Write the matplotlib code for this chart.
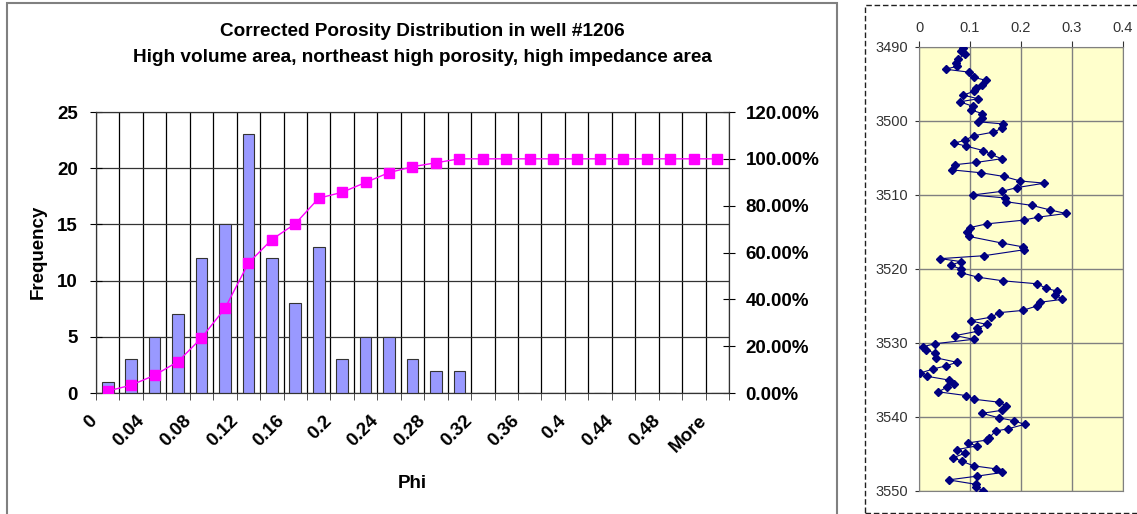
import numpy as np
import matplotlib
matplotlib.use("Agg")
import matplotlib.pyplot as plt
from matplotlib.patches import Rectangle
from matplotlib.transforms import ScaledTranslation
from matplotlib.ticker import FuncFormatter

plt.rcParams['font.family'] = ['Liberation Sans', 'DejaVu Sans']

#
# Histogram data (Excel style bins, last bin is "More")
#

bin_labels = ['0', '0.02', '0.04', '0.06', '0.08', '0.1', '0.12', '0.14', '0.16',
              '0.18', '0.2', '0.22', '0.24', '0.26', '0.28', '0.3', '0.32', '0.34',
              '0.36', '0.38', '0.4', '0.42', '0.44', '0.46', '0.48', '0.5', 'More']
frequency = [1, 3, 5, 7, 12, 15, 23, 12, 8, 13, 3, 5, 5, 3, 2, 2,
             0, 0, 0, 0, 0, 0, 0, 0, 0, 0, 0]

#
# Porosity log for the well (depth, phi)
#

depth = [3490.1, 3490.6, 3491.0, 3491.6, 3492.1, 3492.6, 3493.0, 3493.4, 3494.1, 3494.5,
         3495.1, 3495.5, 3496.0, 3496.5, 3497.0, 3497.4, 3498.0, 3498.5, 3499.0, 3499.6,
         3500.1, 3500.4, 3501.0, 3501.5, 3502.0, 3502.6, 3503.0, 3503.4, 3504.0, 3504.5,
         3505.1, 3505.6, 3505.9, 3506.6, 3507.0, 3507.5, 3508.1, 3508.4, 3509.0, 3509.5,
         3510.0, 3510.4, 3510.9, 3511.4, 3512.0, 3512.5, 3513.0, 3513.4, 3513.9, 3514.4,
         3515.0, 3515.6, 3516.5, 3517.0, 3517.4, 3518.2, 3518.6, 3519.0, 3519.5, 3520.0,
         3520.5, 3521.1, 3521.6, 3522.0, 3522.6, 3523.0, 3523.5, 3524.1, 3524.5, 3525.0,
         3525.6, 3525.9, 3526.5, 3527.0, 3527.5, 3528.0, 3528.4, 3529.0, 3529.5, 3530.1,
         3530.5, 3530.9, 3531.4, 3532.0, 3532.6, 3533.1, 3533.5, 3534.1, 3534.5, 3535.0,
         3535.6, 3536.0, 3536.6, 3537.1, 3537.6, 3538.0, 3538.5, 3539.1, 3539.5, 3540.1,
         3540.5, 3541.0, 3541.6, 3541.9, 3542.8, 3543.1, 3543.5, 3543.9, 3544.4, 3544.9,
         3545.5, 3546.0, 3546.6, 3547.0, 3547.5, 3548.0, 3548.5, 3549.1, 3549.5, 3550.0]
phi = [0.087, 0.082, 0.090, 0.077, 0.073, 0.075, 0.052, 0.098, 0.107, 0.131,
       0.123, 0.112, 0.107, 0.087, 0.116, 0.080, 0.105, 0.102, 0.124, 0.123,
       0.116, 0.165, 0.162, 0.146, 0.107, 0.090, 0.069, 0.093, 0.126, 0.141,
       0.162, 0.112, 0.071, 0.064, 0.122, 0.167, 0.198, 0.246, 0.192, 0.163,
       0.105, 0.169, 0.170, 0.221, 0.256, 0.288, 0.233, 0.205, 0.133, 0.100,
       0.095, 0.098, 0.163, 0.203, 0.206, 0.128, 0.042, 0.082, 0.062, 0.082,
       0.082, 0.115, 0.165, 0.232, 0.249, 0.271, 0.267, 0.281, 0.237, 0.231,
       0.203, 0.157, 0.142, 0.101, 0.133, 0.113, 0.116, 0.071, 0.107, 0.031,
       0.008, 0.014, 0.031, 0.033, 0.074, 0.053, 0.028, 0.001, 0.016, 0.058,
       0.069, 0.054, 0.038, 0.092, 0.108, 0.157, 0.171, 0.162, 0.124, 0.156,
       0.186, 0.207, 0.174, 0.150, 0.138, 0.134, 0.097, 0.113, 0.075, 0.090,
       0.067, 0.085, 0.107, 0.150, 0.163, 0.113, 0.058, 0.112, 0.112, 0.126]

title_lines = ['Corrected Porosity Distribution in well #1206',
               'High volume area, northeast high porosity, high impedance area']

#
# Figure and panel frames
#

W, H = 1137, 514
fig = plt.figure(figsize=(W / 100, H / 100), dpi=100)

fig.patches.append(Rectangle((7 / W, -0.02), 830 / W, 1 - 3 / H + 0.02, transform=fig.transFigure,
                             fill=False, edgecolor='#808080', linewidth=1.5))
fig.patches.append(Rectangle((865 / W, 1 / H), 0.3, 1 - 5.5 / H, transform=fig.transFigure,
                             fill=False, edgecolor='#202020', linewidth=1.0, linestyle=(0, (4, 2))))

#
# Histogram with cumulative line
#

ax = fig.add_axes([96 / W, 121 / H, 633 / W, 281 / H])
x = np.arange(len(bin_labels))

ax.bar(x, frequency, width=0.5, color='#9999FF', edgecolor='#333333', linewidth=0.8, zorder=3)
ax.set_xlim(-0.5, len(bin_labels) - 0.5)
ax.set_ylim(0, 25)
ax.set_yticks([0, 5, 10, 15, 20, 25])

ax.set_xticks(x[::2])
ax.set_xticklabels(bin_labels[::2], rotation=45, ha='right', va='top')
ax.set_xticks(np.arange(-0.5, len(bin_labels), 1), minor=True)
ax.tick_params(axis='x', which='major', length=0, pad=14, labelsize=13.5)
ax.tick_params(axis='x', which='minor', length=5, direction='out', color='#333333')
ax.tick_params(axis='y', direction='inout', length=8, pad=9, labelsize=13.5)
for lab in ax.get_xticklabels():
    lab.set_fontweight('bold')
    lab.set_transform(lab.get_transform() + ScaledTranslation(-7 / 100, 0, fig.dpi_scale_trans))
for lab in ax.get_yticklabels():
    lab.set_fontweight('bold')

ax.grid(True, axis='x', which='minor', color='#000000', linewidth=0.9, zorder=0)
ax.grid(True, axis='y', which='major', color='#333333', linewidth=0.9, zorder=0)
ax.set_axisbelow(True)
for s in ax.spines.values():
    s.set_color('#333333')

cum = np.cumsum(frequency) / np.sum(frequency)
ax2 = ax.twinx()
ax2.plot(x, cum, color='#FF00FF', linewidth=1.0, marker='s', markersize=6.5, zorder=4)
ax2.set_ylim(0, 1.2)
ax2.set_yticks(np.arange(0, 1.21, 0.2))
ax2.yaxis.set_major_formatter(FuncFormatter(lambda v, p: '{:.2f}%'.format(v * 100)))
ax2.tick_params(axis='y', direction='inout', length=8, pad=8, labelsize=13.5)
for lab in ax2.get_yticklabels():
    lab.set_fontweight('bold')
for s in ax2.spines.values():
    s.set_color('#333333')

fig.text(422 / W, 1 - 31 / H, title_lines[0], ha='center', va='center', fontsize=13.7, fontweight='bold')
fig.text(422 / W, 1 - 57 / H, title_lines[1], ha='center', va='center', fontsize=13.7, fontweight='bold')
fig.text(412 / W, 1 - 483 / H, 'Phi', ha='center', va='center', fontsize=13.5, fontweight='bold')
fig.text(38 / W, 1 - 252 / H, 'Frequency', ha='center', va='center', rotation=90, fontsize=13.5, fontweight='bold')

#
# Porosity vs depth log
#

bx = fig.add_axes([919 / W, 23 / H, 204 / W, 444 / H])
bx.set_facecolor('#FFFFCC')
bx.plot(phi, depth, color='#000080', linewidth=0.8, marker='D', markersize=4.5, zorder=3)
bx.set_xlim(0, 0.4)
bx.set_ylim(3550, 3490)
bx.set_xticks([0, 0.1, 0.2, 0.3, 0.4])
bx.set_xticklabels(['0', '0.1', '0.2', '0.3', '0.4'])
bx.set_yticks([3490, 3500, 3510, 3520, 3530, 3540, 3550])
bx.xaxis.tick_top()
bx.tick_params(axis='x', length=4, pad=5, labelsize=10.5, colors='#333333')
bx.tick_params(axis='y', length=3, pad=5, labelsize=10.5, colors='#333333')
bx.grid(True, color='#808080', linewidth=1.0, zorder=0)
for s in bx.spines.values():
    s.set_color('#808080')

fig.savefig('out.png', dpi=100)
